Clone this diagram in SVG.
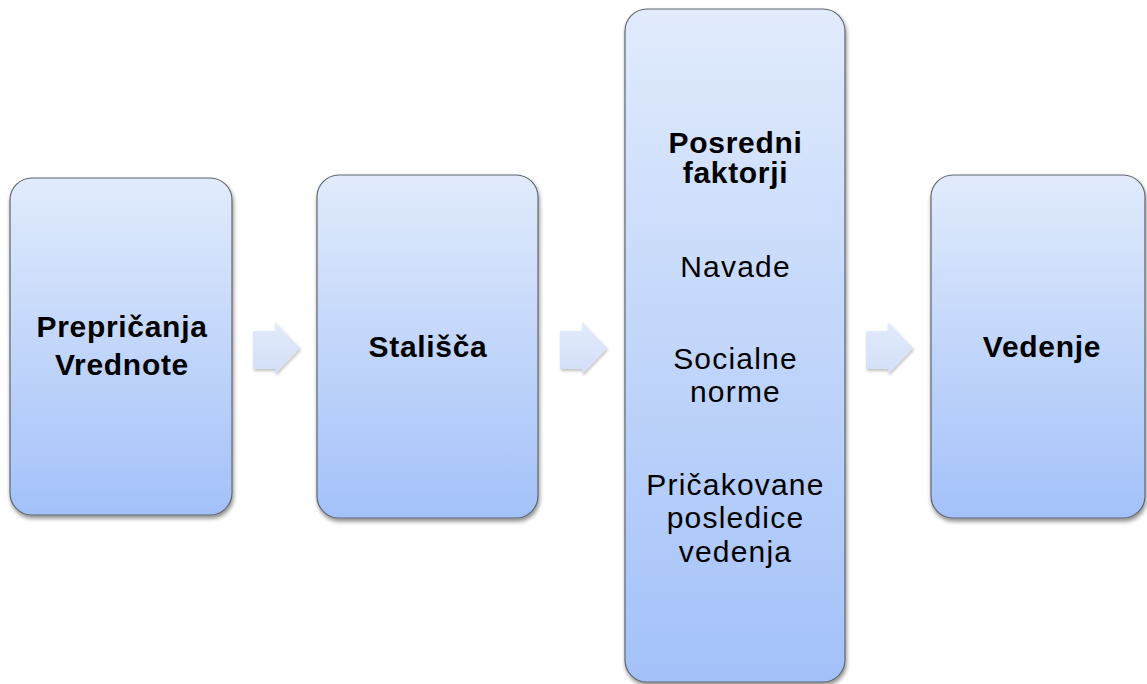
<svg xmlns="http://www.w3.org/2000/svg" width="1147" height="684" viewBox="0 0 1147 684">
  <defs>
    <linearGradient id="boxGrad" x1="0" y1="0" x2="0" y2="1">
      <stop offset="0" stop-color="#e1ebfc"/>
      <stop offset="1" stop-color="#a3c1f9"/>
    </linearGradient>
    <linearGradient id="arrowGrad" x1="0" y1="0" x2="0" y2="1">
      <stop offset="0" stop-color="#e3ebfb"/>
      <stop offset="1" stop-color="#d2dff8"/>
    </linearGradient>
    <filter id="shadow" x="-10%" y="-10%" width="125%" height="125%">
      <feGaussianBlur in="SourceAlpha" stdDeviation="2"/>
      <feOffset dx="1" dy="3" result="b"/>
      <feComponentTransfer><feFuncA type="linear" slope="0.45"/></feComponentTransfer>
      <feMerge><feMergeNode/><feMergeNode in="SourceGraphic"/></feMerge>
    </filter>
    <filter id="ashadow" x="-20%" y="-20%" width="150%" height="150%">
      <feGaussianBlur in="SourceAlpha" stdDeviation="1.5"/>
      <feOffset dx="1" dy="2" result="b"/>
      <feComponentTransfer><feFuncA type="linear" slope="0.25"/></feComponentTransfer>
      <feMerge><feMergeNode/><feMergeNode in="SourceGraphic"/></feMerge>
    </filter>
  </defs>
  <style>
    .box { fill: url(#boxGrad); stroke: #5f6670; stroke-width: 1.2; filter: url(#shadow); }
    .arrow { fill: url(#arrowGrad); stroke: none; filter: url(#ashadow); }
    text { font-family: "Liberation Sans", Arial, sans-serif; fill: #000; text-anchor: middle; }
    .b { font-weight: bold; font-size: 30px; letter-spacing: 0.7px; }
    .r { font-size: 30px; letter-spacing: 1.2px; }
  </style>
  <rect x="0" y="0" width="1147" height="684" fill="#ffffff"/>

  <g id="connectors">
    <path class="arrow" d="M253,331 H275 V322 L300,348 L275,374 V369 H253 Z"/>
    <path class="arrow" d="M560,331 H582 V322 L607,348 L582,374 V369 H560 Z"/>
    <path class="arrow" d="M866,331 H888 V322 L913,348 L888,374 V369 H866 Z"/>
  </g>

  <g id="node-preprican">
    <rect class="box" x="10" y="178" width="222" height="337" rx="22" ry="22"/>
    <text class="b" x="122" y="337">Prepričanja</text>
    <text class="b" x="122" y="375">Vrednote</text>
  </g>

  <g id="node-stalisca">
    <rect class="box" x="317" y="175" width="221" height="343" rx="22" ry="22"/>
    <text class="b" x="428" y="357">Stališča</text>
  </g>

  <g id="node-posredni">
    <rect class="box" x="625" y="9" width="220" height="673" rx="22" ry="22"/>
    <text class="b" x="735.5" y="153">Posredni</text>
    <text class="b" x="735.5" y="183">faktorji</text>
    <text class="r" x="735.5" y="277">Navade</text>
    <text class="r" x="735.5" y="369">Socialne</text>
    <text class="r" x="735.5" y="402">norme</text>
    <text class="r" x="735.5" y="495">Pričakovane</text>
    <text class="r" x="735.5" y="528">posledice</text>
    <text class="r" x="735.5" y="562">vedenja</text>
  </g>

  <g id="node-vedenje">
    <rect class="box" x="931" y="175" width="214" height="343" rx="22" ry="22"/>
    <text class="b" x="1042" y="357">Vedenje</text>
  </g>
</svg>
